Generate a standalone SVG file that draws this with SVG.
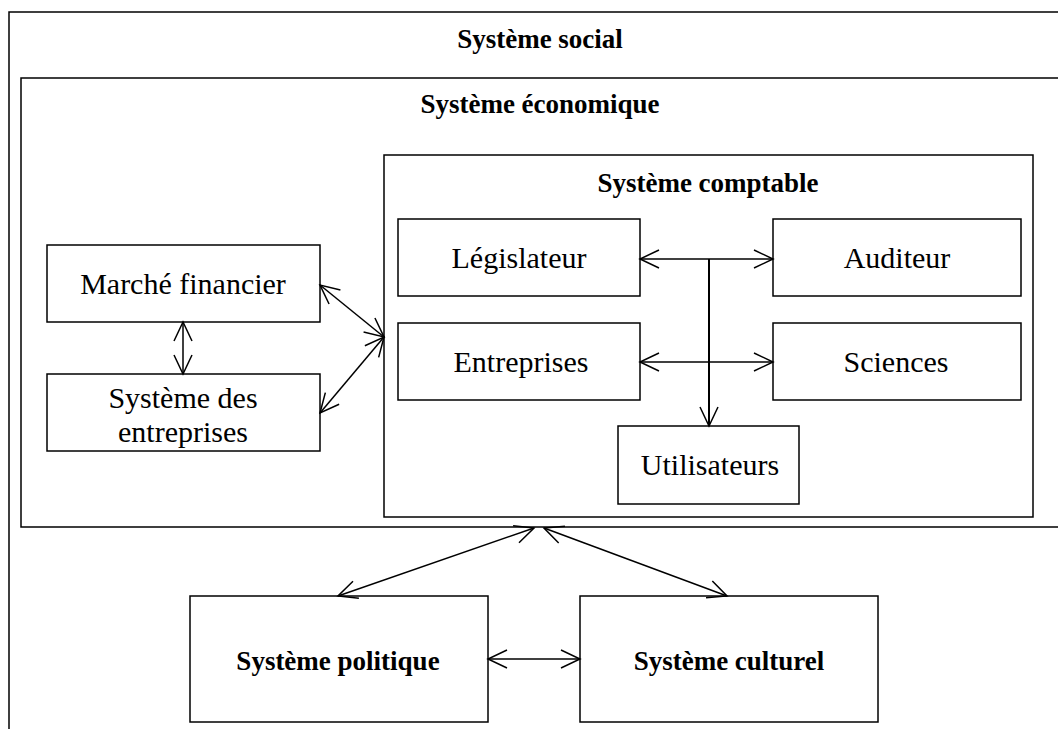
<svg xmlns="http://www.w3.org/2000/svg" width="1058" height="729" viewBox="0 0 1058 729">
<style>
.box{fill:none;stroke:#000;stroke-width:1.5}
.ln{fill:none;stroke:#000;stroke-width:1.5;marker-end:url(#ah)}
.dl{fill:none;stroke:#000;stroke-width:1.5;marker-start:url(#ah);marker-end:url(#ah)}
.t{font-family:"Liberation Serif","Times New Roman",serif;font-size:30px;fill:#000;text-anchor:middle}
.b{font-weight:bold;font-size:27px}
</style>
<defs>
<marker id="ah" viewBox="0 0 24 24" refX="22" refY="12" markerWidth="24" markerHeight="24" markerUnits="userSpaceOnUse" orient="auto-start-reverse">
<path d="M3,3 L22,12 L3,21" fill="none" stroke="#000" stroke-width="1.5"/>
</marker>
</defs>
<rect width="1058" height="729" fill="#fff"/>
<g id="social"><path class="box" d="M9,735 V12 H1065"/><text class="t b" x="540" y="48">Système social</text></g>
<g id="economique"><path class="box" d="M1065,78 H21 V527 H1065"/><text class="t b" x="540" y="113">Système économique</text></g>
<g id="comptable"><rect class="box" x="384" y="155" width="649" height="362"/><text class="t b" x="708" y="192">Système comptable</text></g>
<g id="legislateur"><rect class="box" x="398" y="219" width="242" height="77"/><text class="t" x="519" y="268">Législateur</text></g>
<g id="auditeur"><rect class="box" x="773" y="219" width="248" height="77"/><text class="t" x="897" y="268">Auditeur</text></g>
<g id="entreprises"><rect class="box" x="398" y="323" width="242" height="77"/><text class="t" x="521" y="372">Entreprises</text></g>
<g id="sciences"><rect class="box" x="773" y="323" width="248" height="77"/><text class="t" x="896" y="372">Sciences</text></g>
<g id="utilisateurs"><rect class="box" x="618" y="426" width="181" height="78"/><text class="t" x="710" y="475">Utilisateurs</text></g>
<g id="marche"><rect class="box" x="47" y="245" width="273" height="77"/><text class="t" x="183" y="294">Marché financier</text></g>
<g id="sysentreprises"><rect class="box" x="47" y="374" width="273" height="77"/><text class="t" x="183" y="408">Système des</text><text class="t" x="183" y="442">entreprises</text></g>
<g id="politique"><rect class="box" x="190" y="596" width="298" height="126"/><text class="t b" x="338" y="670">Système politique</text></g>
<g id="culturel"><rect class="box" x="580" y="596" width="298" height="126"/><text class="t b" x="729" y="670">Système culturel</text></g>
<g id="connectors">
<line class="dl" x1="640" y1="259" x2="773" y2="259"/>
<line class="dl" x1="640" y1="362" x2="773" y2="362"/>
<line class="ln" x1="709" y1="259" x2="709" y2="426" style="stroke-width:2"/>
<line class="dl" x1="320" y1="285" x2="384" y2="337"/>
<line class="dl" x1="320" y1="413" x2="384" y2="337"/>
<line class="dl" x1="183" y1="322" x2="183" y2="374"/>
<line class="dl" x1="338" y1="596" x2="534" y2="528"/>
<line class="dl" x1="727" y1="596" x2="544" y2="528"/>
<line class="dl" x1="488" y1="659" x2="580" y2="659"/>
</g>
</svg>
